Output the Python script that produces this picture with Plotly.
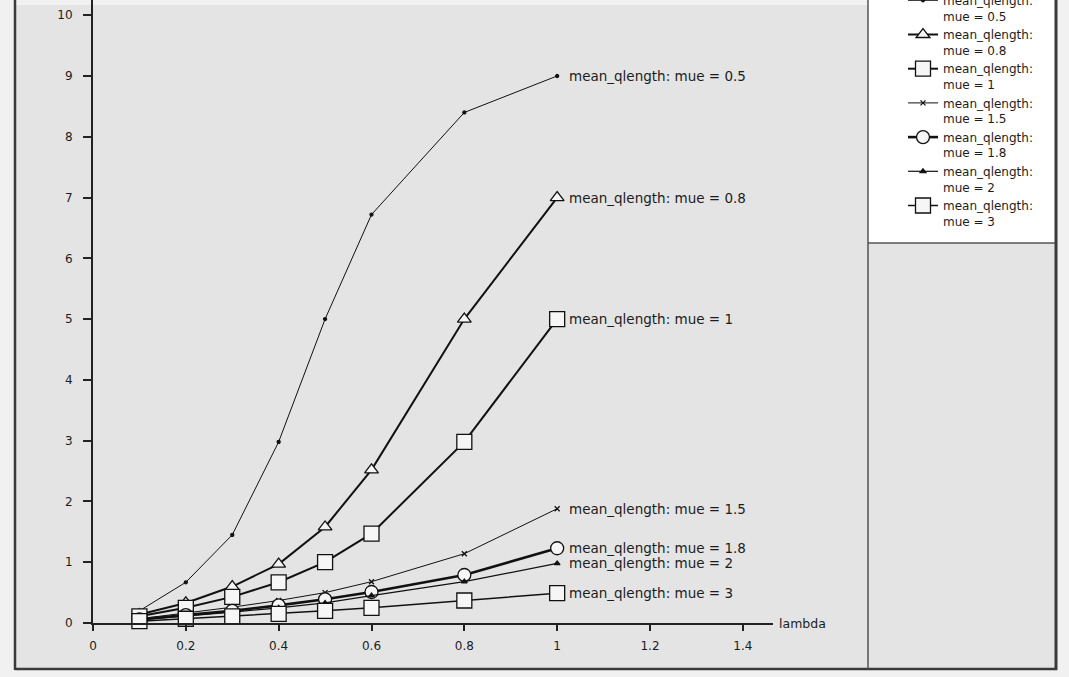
import plotly.graph_objects as go

# ---- data ----
lam = [0.1, 0.2, 0.3, 0.4, 0.5, 0.6, 0.8, 1.0]
mue_labels = ["0.5", "0.8", "1", "1.5", "1.8", "2", "3"]
q_mue_05 = [0.20, 0.67, 1.45, 2.98, 5.00, 6.72, 8.40, 9.00]
q_mue_08 = [0.14, 0.33, 0.60, 0.97, 1.58, 2.52, 5.00, 7.00]
q_mue_1 = [0.11, 0.25, 0.43, 0.67, 1.00, 1.47, 2.98, 5.00]
q_mue_15 = [0.07, 0.16, 0.26, 0.37, 0.50, 0.68, 1.14, 1.88]
q_mue_18 = [0.06, 0.13, 0.20, 0.29, 0.39, 0.51, 0.79, 1.23]
q_mue_2 = [0.05, 0.11, 0.18, 0.25, 0.33, 0.45, 0.68, 0.98]
q_mue_3 = [0.03, 0.07, 0.11, 0.15, 0.20, 0.25, 0.37, 0.49]
series = [q_mue_05, q_mue_08, q_mue_1, q_mue_15, q_mue_18, q_mue_2, q_mue_3]

x_ticks = [0, 0.2, 0.4, 0.6, 0.8, 1.0, 1.2, 1.4]
x_tick_text = ["0", "0.2", "0.4", "0.6", "0.8", "1", "1.2", "1.4"]
y_ticks = list(range(0, 11))

# ---- styles ----
styles = [
    dict(symbol="circle", size=3, lw=1.0, fill=True),
    dict(symbol="triangle-up", size=12, lw=2.0, fill=False),
    dict(symbol="square", size=15, lw=2.0, fill=False),
    dict(symbol="x-thin-open", size=5, lw=1.0, fill=True),
    dict(symbol="circle", size=13, lw=2.6, fill=False),
    dict(symbol="triangle-up", size=5, lw=1.2, fill=True),
    dict(symbol="square", size=15, lw=1.5, fill=False),
]

FONT = "DejaVu Sans"
INK = "#1c1c1c"
BG = "#e4e4e4"

fig = go.Figure()
for lab, vals, st in zip(mue_labels, series, styles):
    fig.add_trace(go.Scatter(
        x=lam, y=vals, mode="lines+markers",
        name="mean_qlength:<br>mue = " + lab,
        line=dict(color="#111111", width=st["lw"]),
        marker=dict(symbol=st["symbol"], size=st["size"],
                    color="#111111" if st["fill"] else "#f6f6f6",
                    line=dict(color="#111111", width=1.3)),
        cliponaxis=False,
    ))
    fig.add_annotation(
        x=lam[-1], y=vals[-1], xref="x", yref="y",
        text="mean_qlength: mue = " + lab, showarrow=False,
        xanchor="left", yanchor="middle", xshift=10,
        font=dict(family=FONT, size=13.5, color=INK),
    )

fig.add_annotation(
    x=1, y=0, xref="paper", yref="y", text="lambda", showarrow=False,
    xanchor="left", yanchor="middle", xshift=4,
    font=dict(family=FONT, size=12.5, color=INK),
)

W, H = 1069, 677
L, R, T, B = 93, 296, 0, 54
pw, ph = W - L - R, H - T - B


def px_x(p):
    return (p - L) / pw


def px_y(p):
    return (H - B - p) / ph


shapes = [
    # window gray area
    dict(type="rect", xref="paper", yref="paper", layer="below",
         x0=px_x(15), x1=px_x(1056), y0=px_y(670), y1=px_y(5),
         fillcolor=BG, line=dict(width=0)),
    # legend white panel
    dict(type="rect", xref="paper", yref="paper", layer="below",
         x0=px_x(868), x1=px_x(1055), y0=px_y(243), y1=px_y(0),
         fillcolor="white", line=dict(width=0)),
    # frame lines
    dict(type="line", xref="paper", yref="paper", x0=px_x(15), x1=px_x(15),
         y0=px_y(670), y1=px_y(0), line=dict(color="#3a3a3a", width=2.5)),
    dict(type="line", xref="paper", yref="paper", x0=px_x(15), x1=px_x(1057),
         y0=px_y(669), y1=px_y(669), line=dict(color="#3a3a3a", width=2.5)),
    dict(type="line", xref="paper", yref="paper", x0=px_x(1056), x1=px_x(1056),
         y0=px_y(670), y1=px_y(0), line=dict(color="#3a3a3a", width=3)),
    dict(type="line", xref="paper", yref="paper", x0=px_x(868), x1=px_x(868),
         y0=px_y(669), y1=px_y(0), line=dict(color="#555555", width=1.5)),
    dict(type="line", xref="paper", yref="paper", x0=px_x(868), x1=px_x(1055),
         y0=px_y(243), y1=px_y(243), line=dict(color="#555555", width=1.5)),
]

fig.update_layout(
    width=W, height=H,
    margin=dict(l=L, r=R, t=T, b=B, autoexpand=False),
    paper_bgcolor="#f1f1f1",
    plot_bgcolor="rgba(0,0,0,0)",
    shapes=shapes,
    showlegend=True,
    legend=dict(
        x=px_x(903), xanchor="left", y=px_y(-14), yanchor="top",
        bgcolor="rgba(0,0,0,0)", borderwidth=0, valign="top",
        font=dict(family=FONT, size=12, color=INK),
        itemsizing="trace",
    ),
    font=dict(family=FONT, size=12, color=INK),
    xaxis=dict(
        range=[0, 1.465], tickvals=x_ticks, ticktext=x_tick_text,
        showgrid=False, zeroline=False, showline=True,
        linecolor="#222222", linewidth=2,
        ticks="outside", ticklen=6, tickcolor="#222222", tickwidth=1.5,
        ticklabelstandoff=5,
        tickfont=dict(family=FONT, size=12, color=INK),
    ),
    yaxis=dict(
        range=[0, 10.25], tickvals=y_ticks,
        showgrid=False, zeroline=False, showline=True,
        linecolor="#222222", linewidth=2,
        ticks="outside", ticklen=8, tickcolor="#222222", tickwidth=1.5,
        ticklabelstandoff=8,
        tickfont=dict(family=FONT, size=12, color=INK),
    ),
)

fig.write_html(
    "out.html",
    config={"displayModeBar": False},
    post_script="document.body.style.margin='0';document.body.style.overflow='hidden';",
)
